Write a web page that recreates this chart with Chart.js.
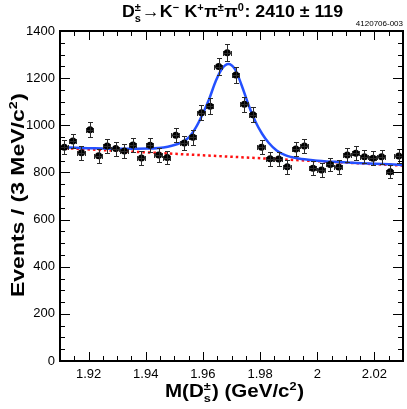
<!DOCTYPE html>
<html><head><meta charset="utf-8">
<script src="https://cdn.jsdelivr.net/npm/chart.js@4.4.0/dist/chart.umd.min.js"></script>
<style>html,body{margin:0;padding:0;background:#fff;}#wrap{width:407px;height:409px;}</style>
</head><body><div id="wrap"><canvas id="c" width="407" height="409"></canvas></div>
<script>
// ---- data ----
const massBins = [1.9115,1.9145,1.9175,1.9205,1.9235,1.9265,1.9295,1.9325,1.9355,1.9385,
  1.9415,1.9445,1.9475,1.9505,1.9535,1.9565,1.9595,1.9625,1.9655,1.9685,
  1.9715,1.9745,1.9775,1.9805,1.9835,1.9865,1.9895,1.9925,1.9955,1.9985,
  2.0015,2.0045,2.0075,2.0105,2.0135,2.0165,2.0195,2.0225,2.0255,2.0285];
const events = [907,933,884,981,871,912,901,891,916,861,
  915,874,863,958,925,949,1053,1081,1249,1308,
  1213,1089,1045,907,858,857,824,899,912,818,
  810,834,823,874,881,867,860,866,803,870];
const eventErrors = [30,31,30,31,30,30,30,30,30,29,
  30,30,29,31,30,31,32,33,35,36,
  35,33,32,30,29,29,29,30,30,29,
  28,29,29,30,30,29,29,29,28,29];
const binHalfWidth = 0.0015;
const fitMass = [1.9100,1.9198,1.9315,1.9407,1.9477,1.9523,1.9552,1.9575,1.9598,1.9622,
  1.9645,1.9668,1.9689,1.9712,1.9736,1.9760,1.9784,1.9807,1.9830,1.9858,
  1.9890,1.9935,1.9990,2.0060,2.0154,2.0300];
const fitEvents = [907,903,900,901,909,926,950,990,1045,1112,
  1188,1242,1260,1238,1168,1085,1015,964,926,893,
  872,859,851,845,839,832];
const bgMass = [1.9100, 2.0300];
const bgEvents = [904, 829];
const xTickValues = [1.92,1.94,1.96,1.98,2.00,2.02];
const xTickLabels = ['1.92','1.94','1.96','1.98','2','2.02'];
const yTickValues = [0,200,400,600,800,1000,1200,1400];
const yTickLabels = ['0','200','400','600','800','1000','1200','1400'];
const xRange = [1.91, 2.03];
const yRange = [0, 1400];
const titleCount = '2410 \u00b1 119';
const plotId = '4120706-003';

const FONT = '"Liberation Sans", Arial, Helvetica, "DejaVu Sans", sans-serif';

function drawRich(ctx, segs, x, y, size, weight, targetW) {
  const small = size * 0.62;
  const norm = weight + ' ' + size + 'px ' + FONT;
  const sm = weight + ' ' + small + 'px ' + FONT;
  const widths = segs.map(s => {
    if (s.k === 'n') { ctx.font = norm; return ctx.measureText(s.t).width; }
    ctx.font = sm;
    if (s.k === 'ss') return Math.max(ctx.measureText(s.t[0]).width, ctx.measureText(s.t[1]).width) + 1;
    return ctx.measureText(s.t).width + 0.5;
  });
  const total = widths.reduce((a, b) => a + b, 0);
  const sx = targetW ? targetW / total : 1;
  ctx.save();
  ctx.translate(x, y);
  ctx.scale(sx, 1);
  let cx = -total / 2;
  ctx.textAlign = 'left'; ctx.textBaseline = 'alphabetic';
  segs.forEach((s, i) => {
    if (s.k === 'n') { ctx.font = norm; ctx.fillText(s.t, cx, 0); }
    else if (s.k === 'sup') { ctx.font = sm; ctx.fillText(s.t, cx, -size * 0.38); }
    else if (s.k === 'ss') { ctx.font = sm; ctx.fillText(s.t[0], cx, -size * 0.38); ctx.fillText(s.t[1], cx, size * 0.3); }
    cx += widths[i];
  });
  ctx.restore();
}

const decor = {
  id: 'decor',
  afterDatasetsDraw(chart) {
    const ctx = chart.ctx, xs = chart.scales.x, ys = chart.scales.y;
    ctx.save();
    ctx.strokeStyle = '#2a2a2a'; ctx.lineWidth = 1;
    massBins.forEach((m, i) => {
      const px = Math.round(xs.getPixelForValue(m)) + 0.5;
      const py = Math.round(ys.getPixelForValue(events[i])) + 0.5;
      const yT = Math.round(ys.getPixelForValue(events[i] + eventErrors[i])) + 0.5;
      const yB = Math.round(ys.getPixelForValue(events[i] - eventErrors[i])) + 0.5;
      const xL = Math.round(xs.getPixelForValue(m - binHalfWidth)) + 0.5;
      const xR = Math.round(xs.getPixelForValue(m + binHalfWidth)) - 0.5;
      ctx.beginPath();
      ctx.moveTo(px, yT); ctx.lineTo(px, yB);
      ctx.moveTo(px - 2.5, yT); ctx.lineTo(px + 2.5, yT);
      ctx.moveTo(px - 2.5, yB); ctx.lineTo(px + 2.5, yB);
      ctx.moveTo(xL, py); ctx.lineTo(xR, py);
      ctx.moveTo(xL, py - 2.5); ctx.lineTo(xL, py + 2.5);
      ctx.moveTo(xR, py - 2.5); ctx.lineTo(xR, py + 2.5);
      ctx.stroke();
    });
    ctx.restore();
  },
  afterDraw(chart) {
    const ctx = chart.ctx, xs = chart.scales.x, ys = chart.scales.y, a = chart.chartArea;
    ctx.save();
    ctx.strokeStyle = '#000'; ctx.lineWidth = 1;
    for (let k = Math.ceil(xRange[0] / 0.005 + 1e-6); k * 0.005 < xRange[1] - 1e-6; k++) {
      const v = k * 0.005;
      const major = Math.abs(v / 0.02 - Math.round(v / 0.02)) < 1e-6;
      const L = major ? 9 : 5;
      const px = Math.round(xs.getPixelForValue(v)) + 0.5;
      ctx.beginPath();
      ctx.moveTo(px, a.bottom); ctx.lineTo(px, a.bottom - L);
      ctx.moveTo(px, a.top); ctx.lineTo(px, a.top + L);
      ctx.stroke();
    }
    for (let v = yRange[0] + 50; v < yRange[1]; v += 50) {
      const major = v % 200 === 0;
      const L = major ? 10 : 5;
      const py = Math.round(ys.getPixelForValue(v)) + 0.5;
      ctx.beginPath();
      ctx.moveTo(a.left, py); ctx.lineTo(a.left + L, py);
      ctx.moveTo(a.right, py); ctx.lineTo(a.right - L, py);
      ctx.stroke();
    }
    ctx.lineWidth = 2;
    ctx.strokeRect(a.left, a.top, a.right - a.left, a.bottom - a.top);
    ctx.fillStyle = '#000';
    drawRich(ctx, [
      {k:'n', t:'D'}, {k:'ss', t:['\u00b1','s']}, {k:'n', t:'\u2192K'}, {k:'sup', t:'\u2212'},
      {k:'n', t:' K'}, {k:'sup', t:'+'}, {k:'n', t:'\u03c0'}, {k:'sup', t:'\u00b1'},
      {k:'n', t:'\u03c0'}, {k:'sup', t:'0'}, {k:'n', t:': ' + titleCount}
    ], 232.5, 17, 17, 'bold', 221);
    ctx.font = '8px ' + FONT; ctx.textAlign = 'right'; ctx.textBaseline = 'alphabetic';
    ctx.fillText(plotId, 403, 26);
    drawRich(ctx, [
      {k:'n', t:'M(D'}, {k:'ss', t:['\u00b1','s']}, {k:'n', t:') (GeV/c'}, {k:'sup', t:'2'}, {k:'n', t:')'}
    ], 234.5, 397, 18, 'bold', 139);
    ctx.save();
    ctx.translate(24, 195); ctx.rotate(-Math.PI / 2);
    drawRich(ctx, [
      {k:'n', t:'Events / (3 MeV/c'}, {k:'sup', t:'2'}, {k:'n', t:')'}
    ], 0, 0, 18, 'bold', 204);
    ctx.restore();
    ctx.restore();
  }
};

new Chart(document.getElementById('c'), {
  type: 'scatter',
  data: {
    datasets: [
      { data: massBins.map((m, i) => ({x: m, y: events[i]})), pointRadius: 3.5, pointBackgroundColor: '#000', pointBorderWidth: 0, showLine: false },
      { type: 'line', data: fitMass.map((m, i) => ({x: m, y: fitEvents[i]})), borderColor: '#2450ff', borderWidth: 2.5, pointRadius: 0, cubicInterpolationMode: 'monotone', fill: false, showLine: true },
      { type: 'line', data: bgMass.map((m, i) => ({x: m, y: bgEvents[i]})), borderColor: '#ff1010', borderWidth: 2.5, borderDash: [2.5, 3], pointRadius: 0, fill: false, showLine: true }
    ]
  },
  options: {
    responsive: false, animation: false, devicePixelRatio: 1,
    layout: { padding: { top: 31, right: 2, left: 0, bottom: 0 } },
    plugins: { legend: { display: false }, tooltip: { enabled: false }, title: { display: false } },
    scales: {
      x: {
        type: 'linear', min: xRange[0], max: xRange[1],
        afterBuildTicks: s => { s.ticks = xTickValues.map(v => ({value: v})); },
        afterFit: s => { s.height = 48; },
        grid: { display: false, drawTicks: false }, border: { display: false },
        ticks: { callback: (v, i) => xTickLabels[i], color: '#000', font: { family: FONT, size: 13 }, padding: 6, maxRotation: 0, autoSkip: false }
      },
      y: {
        type: 'linear', min: yRange[0], max: yRange[1],
        afterBuildTicks: s => { s.ticks = yTickValues.map(v => ({value: v})); },
        afterFit: s => { s.width = 60; },
        grid: { display: false, drawTicks: false }, border: { display: false },
        ticks: { callback: (v, i) => yTickLabels[i], color: '#000', font: { family: FONT, size: 13 }, padding: 5, autoSkip: false }
      }
    }
  },
  plugins: [decor]
});
</script></body></html>
